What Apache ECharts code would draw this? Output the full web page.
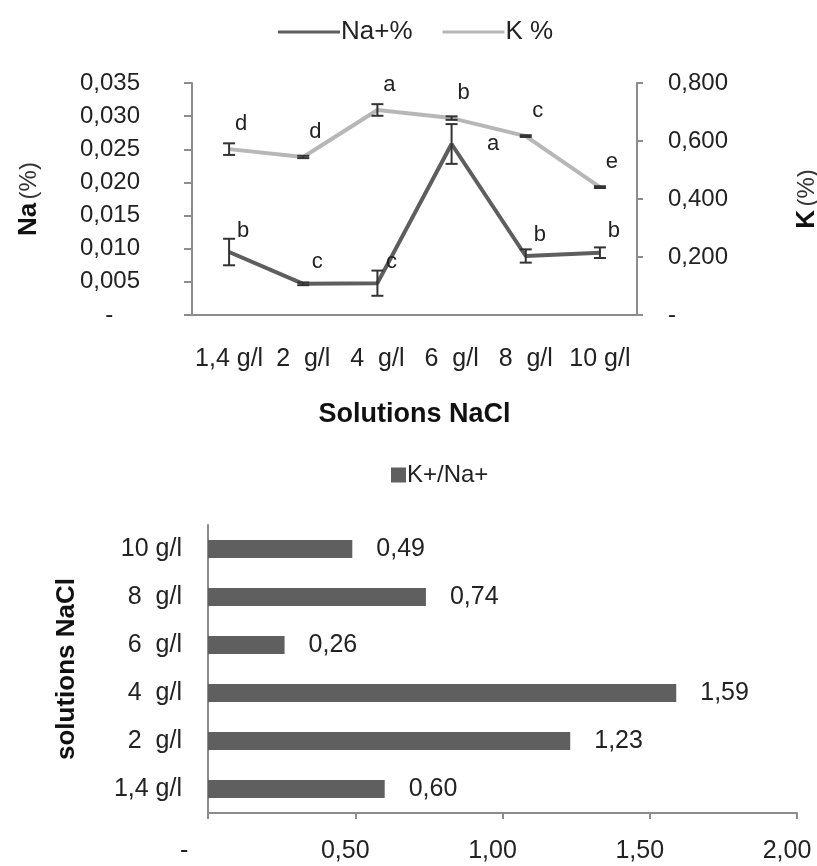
<!DOCTYPE html>
<html>
<head>
<meta charset="utf-8">
<script src="https://cdn.jsdelivr.net/npm/echarts@6/dist/echarts.min.js"></script>
<style>
  html, body { margin: 0; padding: 0; background: #fff; }
  #chart { width: 817px; height: 866px; }
</style>
</head>
<body>
<div id="chart"></div>
<script>
// top chart: Na / K contents per NaCl solution
var solutions = ['1,4 g/l', '2  g/l', '4  g/l', '6  g/l', '8  g/l', '10 g/l'];
var naValues = [0.0095, 0.0047, 0.0048, 0.0258, 0.0089, 0.0094];
var naErrors = [0.0020, 0.0002, 0.0019, 0.0030, 0.0010, 0.0008];
var naLetters = ['b', 'c', 'c', 'a', 'b', 'b'];
var kValues = [0.572, 0.545, 0.707, 0.679, 0.617, 0.441];
var kErrors = [0.020, 0.004, 0.020, 0.006, 0.003, 0.003];
var kLetters = ['d', 'd', 'a', 'b', 'c', 'e'];

// bottom chart: K+/Na+ ratio
var ratioCategories = ['1,4 g/l', '2  g/l', '4  g/l', '6  g/l', '8  g/l', '10 g/l'];
var ratioValues = [0.60, 1.23, 1.59, 0.26, 0.74, 0.49];

var FONT = 'Liberation Sans, Arial, sans-serif';
var NA_COLOR = '#5e5e5e';
var K_COLOR = '#b7b7b7';
var AXIS_COLOR = '#8c8c8c';

function comma(v, d) {
	return v.toFixed(d).replace('.', ',');
}

function errorData(values, errors) {
	return values.map(function(v, i) {
		return [i, v - errors[i], v + errors[i]];
	});
}

function renderErrorBar(params, api) {
	var idx = api.value(0);
	var lo = api.coord([idx, api.value(1)]);
	var hi = api.coord([idx, api.value(2)]);
	var half = 6;
	var style = { stroke: '#333', lineWidth: 2 };
	return {
		type: 'group',
		children: [
			{ type: 'line', shape: { x1: hi[0], y1: hi[1], x2: lo[0], y2: lo[1] }, style: style },
			{ type: 'line', shape: { x1: hi[0] - half, y1: hi[1], x2: hi[0] + half, y2: hi[1] }, style: style },
			{ type: 'line', shape: { x1: lo[0] - half, y1: lo[1], x2: lo[0] + half, y2: lo[1] }, style: style }
		]
	};
}

// Na letters: the peak letter sits to the right of the point
var naData = naValues.map(function(v, i) {
	if (i === 3) {
		return { value: v, label: { position: 'right', offset: [30, 0] } };
	}
	return v;
});

var chart = echarts.init(document.getElementById('chart'));

var option = {
	backgroundColor: '#fff',
	animation: false,
	textStyle: { fontFamily: FONT, color: '#222' },
	legend: [{
		data: ['Na+%', 'K %'],
		left: 273,
		top: 14,
		icon: 'rect',
		itemWidth: 62,
		itemHeight: 3,
		itemGap: 30,
		textStyle: { fontSize: 26, color: '#222', fontFamily: FONT, padding: [0, 0, 0, -4] }
	}, {
		data: ['K+/Na+'],
		left: 386,
		top: 458,
		icon: 'rect',
		itemWidth: 15,
		itemHeight: 15,
		textStyle: { fontSize: 24, color: '#222', fontFamily: FONT, padding: [0, 0, 0, -4] }
	}],
	grid: [
		{ left: 192, right: 180, top: 83, height: 232, outerBoundsMode: 'none' },
		{ left: 208, right: 20, top: 525, height: 288, outerBoundsMode: 'none' }
	],
	xAxis: [{
		gridIndex: 0,
		type: 'category',
		data: solutions,
		boundaryGap: true,
		name: 'Solutions NaCl',
		nameLocation: 'middle',
		nameGap: 86,
		nameTextStyle: { fontSize: 27, fontWeight: 'bold', color: '#111', fontFamily: FONT },
		axisLine: { lineStyle: { color: AXIS_COLOR, width: 2 } },
		axisTick: { length: 6, lineStyle: { color: AXIS_COLOR, width: 2 } },
		axisLabel: { interval: 0, fontSize: 25, color: '#222', margin: 32, fontFamily: FONT },
		splitLine: { show: false }
	}, {
		gridIndex: 1,
		type: 'value',
		min: 0,
		max: 2,
		interval: 0.5,
		axisLine: { show: true, lineStyle: { color: AXIS_COLOR, width: 2 } },
		axisTick: { show: true, length: 6, lineStyle: { color: AXIS_COLOR, width: 2 } },
		axisLabel: {
			fontSize: 25,
			color: '#222',
			margin: 26,
			fontFamily: FONT,
			padding: [0, 20, 0, 0],
			formatter: function(v) { return v === 0 ? '-    ' : comma(v, 2); }
		},
		splitLine: { show: false }
	}],
	yAxis: [{
		gridIndex: 0,
		type: 'value',
		min: 0,
		max: 0.035,
		interval: 0.005,
		position: 'left',
		name: '{b|Na} {n|(%)}',
		nameLocation: 'middle',
		nameRotate: 90,
		nameGap: 150,
		nameTextStyle: {
			rich: {
				b: { fontSize: 26, fontWeight: 'bold', color: '#111', fontFamily: FONT },
				n: { fontSize: 24, color: '#333', fontFamily: FONT }
			}
		},
		axisLine: { show: true, lineStyle: { color: AXIS_COLOR, width: 2 } },
		axisTick: { show: true, length: 8, lineStyle: { color: AXIS_COLOR, width: 2 } },
		axisLabel: {
			fontSize: 24,
			color: '#222',
			margin: 52,
			fontFamily: FONT,
			formatter: function(v) { return v === 0 ? '-    ' : comma(v, 3); }
		},
		splitLine: { show: false }
	}, {
		gridIndex: 0,
		type: 'value',
		min: 0,
		max: 0.8,
		interval: 0.2,
		position: 'right',
		name: '{b|K} {n|(%)}',
		nameLocation: 'middle',
		nameRotate: 90,
		nameGap: 157,
		nameTextStyle: {
			rich: {
				b: { fontSize: 26, fontWeight: 'bold', color: '#111', fontFamily: FONT },
				n: { fontSize: 24, color: '#333', fontFamily: FONT }
			}
		},
		axisLine: { show: true, lineStyle: { color: AXIS_COLOR, width: 2 } },
		axisTick: { show: true, length: 6, lineStyle: { color: AXIS_COLOR, width: 2 } },
		axisLabel: {
			fontSize: 24,
			color: '#222',
			margin: 31,
			fontFamily: FONT,
			formatter: function(v) { return v === 0 ? '-' : comma(v, 3); }
		},
		splitLine: { show: false }
	}, {
		gridIndex: 1,
		type: 'category',
		data: ratioCategories,
		boundaryGap: true,
		name: 'solutions NaCl',
		nameLocation: 'middle',
		nameRotate: 90,
		nameGap: 128,
		nameTextStyle: { fontSize: 26, fontWeight: 'bold', color: '#111', fontFamily: FONT },
		axisLine: { lineStyle: { color: AXIS_COLOR, width: 2 } },
		axisTick: { length: 6, lineStyle: { color: AXIS_COLOR, width: 2 } },
		axisLabel: { interval: 0, fontSize: 25, color: '#222', margin: 26, fontFamily: FONT },
		splitLine: { show: false }
	}],
	series: [{
		name: 'Na+%',
		type: 'line',
		xAxisIndex: 0,
		yAxisIndex: 0,
		data: naData,
		symbol: 'circle',
		symbolSize: 1,
		showSymbol: true,
		color: NA_COLOR,
		itemStyle: { color: NA_COLOR },
		lineStyle: { color: NA_COLOR, width: 4 },
		z: 3,
		label: {
			show: true,
			position: 'top',
			offset: [14, -5],
			fontSize: 22,
			color: '#222',
			fontFamily: FONT,
			formatter: function(p) { return naLetters[p.dataIndex]; }
		}
	}, {
		name: 'K %',
		type: 'line',
		xAxisIndex: 0,
		yAxisIndex: 1,
		data: kValues,
		symbol: 'circle',
		symbolSize: 1,
		showSymbol: true,
		color: K_COLOR,
		itemStyle: { color: K_COLOR },
		lineStyle: { color: K_COLOR, width: 4 },
		z: 2,
		label: {
			show: true,
			position: 'top',
			offset: [12, -9],
			fontSize: 22,
			color: '#222',
			fontFamily: FONT,
			formatter: function(p) { return kLetters[p.dataIndex]; }
		}
	}, {
		name: 'Na err',
		type: 'custom',
		xAxisIndex: 0,
		yAxisIndex: 0,
		data: errorData(naValues, naErrors),
		renderItem: renderErrorBar,
		z: 4
	}, {
		name: 'K err',
		type: 'custom',
		xAxisIndex: 0,
		yAxisIndex: 1,
		data: errorData(kValues, kErrors),
		renderItem: renderErrorBar,
		z: 4
	}, {
		name: 'K+/Na+',
		type: 'bar',
		xAxisIndex: 1,
		yAxisIndex: 2,
		data: ratioValues,
		barWidth: 18,
		color: '#5f5f5f',
		itemStyle: { color: '#5f5f5f' },
		label: {
			show: true,
			position: 'right',
			distance: 24,
			fontSize: 25,
			color: '#222',
			fontFamily: FONT,
			formatter: function(p) { return comma(p.value, 2); }
		}
	}]
};

chart.setOption(option);
</script>
</body>
</html>
